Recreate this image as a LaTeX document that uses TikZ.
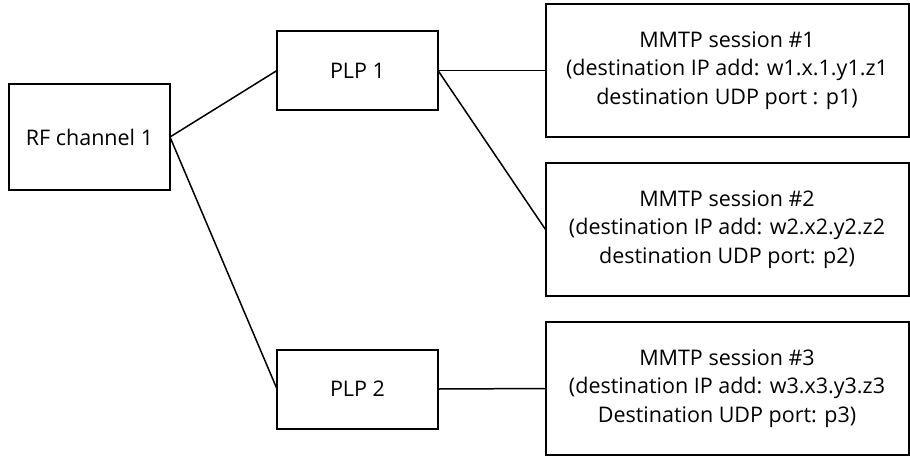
\documentclass[tikz,border=0pt]{standalone}
\usepackage{fontspec}
\setmainfont{Open Sans}

\begin{document}
\begin{tikzpicture}[
    x=1pt,
    y=-1pt,
    font=\fontsize{21.5}{28.5}\selectfont,
    channel/.style={
        draw=black,
        rectangle,
        line width=2pt,
        minimum width=161pt,
        minimum height=106pt,
        outer sep=0pt,
        align=center
    },
    plp/.style={
        draw=black,
        rectangle,
        line width=2pt,
        minimum width=161pt,
        minimum height=79pt,
        outer sep=0pt,
        align=center
    },
    session/.style={
        draw=black,
        rectangle,
        line width=2pt,
        minimum width=363pt,
        minimum height=133pt,
        outer sep=0pt,
        align=center
    },
    link/.style={
        line width=1.5pt
    }
]

\useasboundingbox (0,0) rectangle (910,456);

\node[channel] (rf) at (89.5,137)
    {RF channel 1};

\node[plp] (plp1) at (357.5,70.5)
    {PLP 1};

\node[plp] (plp2) at (357.5,389)
    {PLP 2};

\node[session] (mmtp1) at (727,70.5)
    {MMTP session \#1\\
     (destination IP add: w1.x.1.y1.z1\\
     destination UDP port : p1)};

\node[session] (mmtp2) at (727,229.5)
    {MMTP session \#2\\
     (destination IP add: w2.x2.y2.z2\\
     destination UDP port: p2)};

\node[session] (mmtp3) at (727,388.5)
    {MMTP session \#3\\
     (destination IP add: w3.x3.y3.z3\\
     Destination UDP port: p3)};


\draw[link]
    (rf.east) --
    (plp1.west);

\draw[link]
    (rf.east) --
    (plp2.west);

\draw[link]
    (plp1.east) --
    (mmtp1.west);

\draw[link]
    (plp1.east) --
    (mmtp2.west);

\draw[link]
    (plp2.east) --
    (mmtp3.west);

\end{tikzpicture}
\end{document}
